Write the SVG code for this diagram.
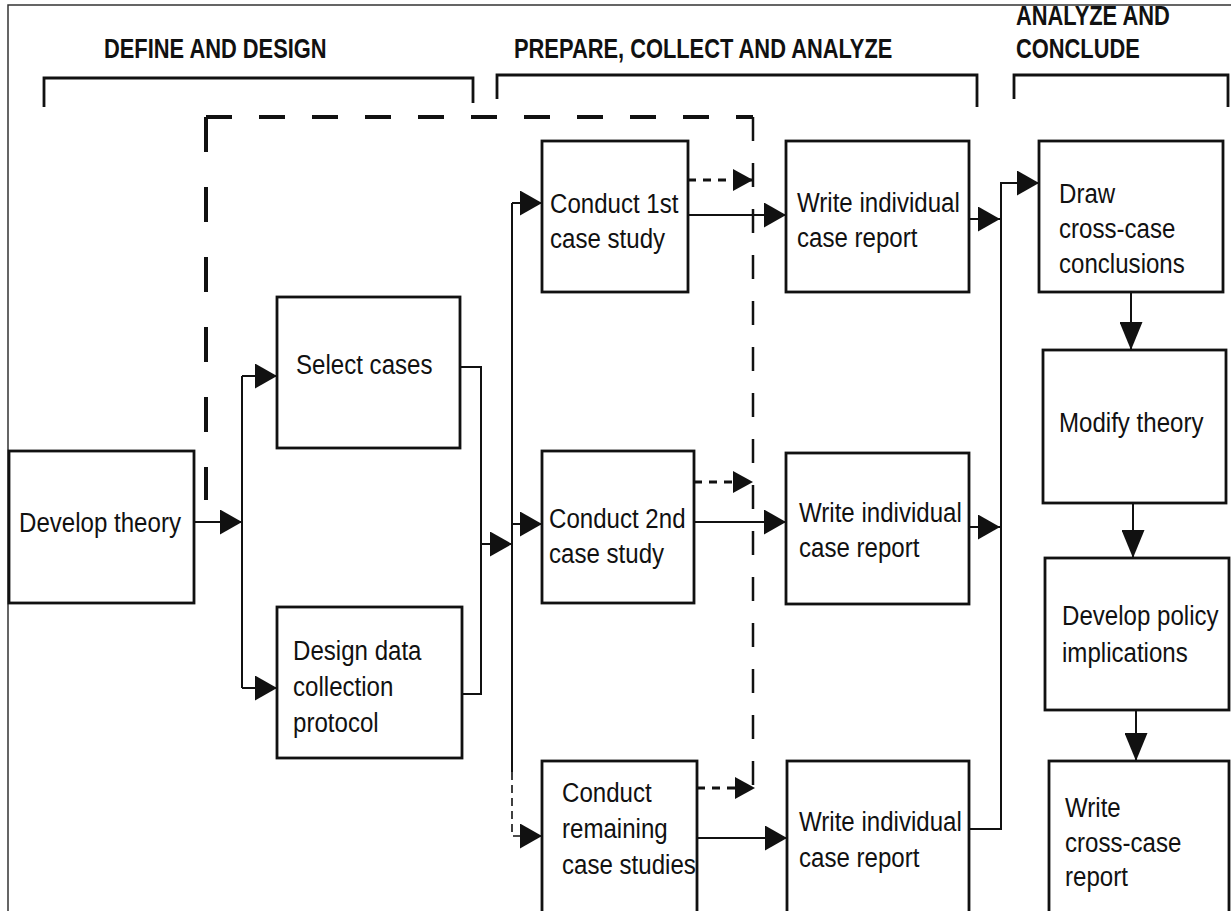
<svg xmlns="http://www.w3.org/2000/svg" width="1231" height="911" viewBox="0 0 1231 911">
  <style>
    .box { fill: #fff; stroke: #111; stroke-width: 2.8; }
    .lbl { font-family: "Liberation Sans", Arial, sans-serif; font-size: 28px; fill: #111; }
    .hdr { font-family: "Liberation Sans", Arial, sans-serif; font-size: 27px; font-weight: bold; fill: #111; }
    .frame { fill: none; stroke: #333; stroke-width: 1.5; }
    .brk { fill: none; stroke: #111; stroke-width: 2.8; }
    .ln { fill: none; stroke: #111; stroke-width: 2; }
    .dash-s { fill: none; stroke: #111; stroke-width: 3; stroke-dasharray: 8 7; }
    .dash-t { fill: none; stroke: #111; stroke-width: 1.6; stroke-dasharray: 8 5; }
    .fb-h { fill: none; stroke: #111; stroke-width: 4; stroke-dasharray: 26 27; }
    .fb-v { fill: none; stroke: #111; stroke-width: 4; stroke-dasharray: 35 35; }
    .fb-r { fill: none; stroke: #111; stroke-width: 2.5; stroke-dasharray: 24 22; }
  </style>
  <defs>
    <marker id="arr" markerUnits="userSpaceOnUse" markerWidth="23" markerHeight="25" refX="22" refY="12.5" orient="auto">
      <path d="M0,0 L22,12.5 L0,25 Z" fill="#111" stroke="none"/>
    </marker>
    <marker id="arrv" markerUnits="userSpaceOnUse" markerWidth="29" markerHeight="23" refX="28" refY="11.5" orient="auto">
      <path d="M0,0 L28,11.5 L0,23 Z" fill="#111" stroke="none"/>
    </marker>
    <marker id="arrs" markerUnits="userSpaceOnUse" markerWidth="21" markerHeight="23" refX="20" refY="11" orient="auto">
      <path d="M0,0 L20,11 L0,22 Z" fill="#111" stroke="none"/>
    </marker>
  </defs>

  <rect width="1231" height="911" fill="#fff"/>

  <!-- outer frame (top and left edges) -->
  <path class="frame" d="M8,911 V5 H1231"/>

  <!-- phase headers (condensed type) and brackets -->
  <g id="phase-define">
    <text class="hdr" transform="translate(104,0) scale(0.81,1)" y="58">DEFINE AND DESIGN</text>
    <path class="brk" d="M44,107 V78 H473 V103"/>
  </g>
  <g id="phase-prepare">
    <text class="hdr" transform="translate(514,0) scale(0.81,1)" y="58">PREPARE, COLLECT AND ANALYZE</text>
    <path class="brk" d="M497,99 V75 H977 V107"/>
  </g>
  <g id="phase-conclude">
    <g transform="translate(1016,0) scale(0.81,1)">
      <text class="hdr" y="25">ANALYZE AND</text>
      <text class="hdr" y="58">CONCLUDE</text>
    </g>
    <path class="brk" d="M1014,99 V75 H1228 V107"/>
  </g>

  <!-- connectors -->
  <g id="connectors">
    <!-- feedback loop -->
    <path class="fb-v" d="M206,117 V500"/>
    <path class="fb-h" d="M206,117 H753"/>
    <path class="fb-r" d="M753,117 V790"/>

    <!-- define and design -->
    <path class="ln" d="M194,522 H242" marker-end="url(#arr)"/>
    <path class="ln" d="M242,376 V688"/>
    <path class="ln" d="M242,376 H277" marker-end="url(#arr)"/>
    <path class="ln" d="M242,688 H277" marker-end="url(#arr)"/>
    <path class="ln" d="M460,367 H481 V694 H462"/>
    <path class="ln" d="M481,544 H512" marker-end="url(#arr)"/>

    <!-- case studies fan-out -->
    <path class="ln" d="M512,203 V772"/>
    <path class="dash-t" d="M512,772 V836 H542" marker-end="url(#arr)"/>
    <path class="ln" d="M512,203 H542" marker-end="url(#arr)"/>
    <path class="ln" d="M512,524 H542" marker-end="url(#arr)"/>

    <!-- case study to report -->
    <path class="ln" d="M688,215 H786" marker-end="url(#arr)"/>
    <path class="ln" d="M694,522 H786" marker-end="url(#arr)"/>
    <path class="ln" d="M697,838 H787" marker-end="url(#arr)"/>

    <!-- case study feedback stubs -->
    <path class="dash-s" d="M688,180 H753" marker-end="url(#arrs)"/>
    <path class="dash-s" d="M694,482 H753" marker-end="url(#arrs)"/>
    <path class="dash-s" d="M697,788 H755" marker-end="url(#arrs)"/>

    <!-- reports to cross-case conclusions -->
    <path class="ln" d="M970,219 H1000" marker-end="url(#arr)"/>
    <path class="ln" d="M970,527 H1000" marker-end="url(#arr)"/>
    <path class="ln" d="M970,829 H1001 V183 H1039" marker-end="url(#arr)"/>

    <!-- conclusion chain -->
    <path class="ln" d="M1131,292 V350" marker-end="url(#arrv)"/>
    <path class="ln" d="M1133,503 V558" marker-end="url(#arrv)"/>
    <path class="ln" d="M1136,710 V761" marker-end="url(#arrv)"/>
  </g>

  <!-- nodes; labels use a horizontally condensed face -->
  <g id="develop-theory">
    <rect class="box" x="9" y="451" width="185" height="152"/>
    <g transform="translate(19,0) scale(0.86,1)">
      <text class="lbl" y="532">Develop theory</text>
    </g>
  </g>
  <g id="select-cases">
    <rect class="box" x="277" y="297" width="183" height="151"/>
    <g transform="translate(296,0) scale(0.86,1)">
      <text class="lbl" y="374">Select cases</text>
    </g>
  </g>
  <g id="design-protocol">
    <rect class="box" x="277" y="607" width="185" height="151"/>
    <g transform="translate(293,0) scale(0.86,1)">
      <text class="lbl" y="660">Design data</text>
      <text class="lbl" y="696">collection</text>
      <text class="lbl" y="732">protocol</text>
    </g>
  </g>
  <g id="conduct-1st">
    <rect class="box" x="542" y="141" width="146" height="151"/>
    <g transform="translate(550,0) scale(0.86,1)">
      <text class="lbl" y="213">Conduct 1st</text>
      <text class="lbl" y="248">case study</text>
    </g>
  </g>
  <g id="conduct-2nd">
    <rect class="box" x="542" y="451" width="152" height="152"/>
    <g transform="translate(549,0) scale(0.86,1)">
      <text class="lbl" y="528">Conduct 2nd</text>
      <text class="lbl" y="563">case study</text>
    </g>
  </g>
  <g id="conduct-remaining">
    <rect class="box" x="542" y="761" width="155" height="170"/>
    <g transform="translate(562,0) scale(0.86,1)">
      <text class="lbl" y="802">Conduct</text>
      <text class="lbl" y="838">remaining</text>
      <text class="lbl" y="874">case studies</text>
    </g>
  </g>
  <g id="report-1">
    <rect class="box" x="786" y="141" width="183" height="151"/>
    <g transform="translate(797,0) scale(0.86,1)">
      <text class="lbl" y="212">Write individual</text>
      <text class="lbl" y="247">case report</text>
    </g>
  </g>
  <g id="report-2">
    <rect class="box" x="786" y="453" width="183" height="151"/>
    <g transform="translate(799,0) scale(0.86,1)">
      <text class="lbl" y="522">Write individual</text>
      <text class="lbl" y="557">case report</text>
    </g>
  </g>
  <g id="report-3">
    <rect class="box" x="787" y="761" width="182" height="170"/>
    <g transform="translate(799,0) scale(0.86,1)">
      <text class="lbl" y="831">Write individual</text>
      <text class="lbl" y="867">case report</text>
    </g>
  </g>
  <g id="cross-case-conclusions">
    <rect class="box" x="1039" y="141" width="184" height="151"/>
    <g transform="translate(1059,0) scale(0.86,1)">
      <text class="lbl" y="203">Draw</text>
      <text class="lbl" y="238">cross-case</text>
      <text class="lbl" y="273">conclusions</text>
    </g>
  </g>
  <g id="modify-theory">
    <rect class="box" x="1043" y="350" width="183" height="153"/>
    <g transform="translate(1059,0) scale(0.86,1)">
      <text class="lbl" y="432">Modify theory</text>
    </g>
  </g>
  <g id="policy-implications">
    <rect class="box" x="1045" y="558" width="184" height="152"/>
    <g transform="translate(1062,0) scale(0.86,1)">
      <text class="lbl" y="625">Develop policy</text>
      <text class="lbl" y="662">implications</text>
    </g>
  </g>
  <g id="cross-case-report">
    <rect class="box" x="1049" y="761" width="180" height="170"/>
    <g transform="translate(1065,0) scale(0.86,1)">
      <text class="lbl" y="817">Write</text>
      <text class="lbl" y="852">cross-case</text>
      <text class="lbl" y="886">report</text>
    </g>
  </g>
</svg>
